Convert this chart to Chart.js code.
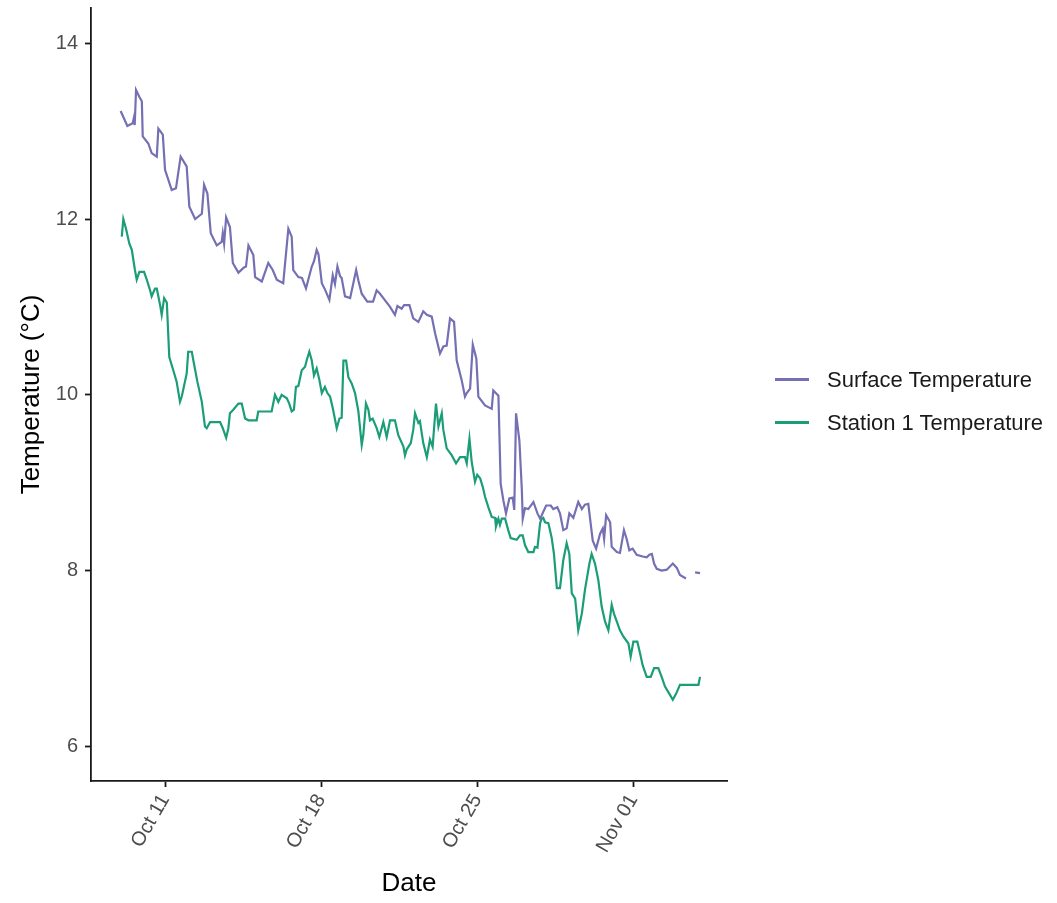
<!DOCTYPE html>
<html>
<head>
<meta charset="utf-8">
<title>Surface vs Station 1 temperature</title>
<script src="https://cdn.jsdelivr.net/npm/chart.js@4.4.1/dist/chart.umd.min.js"></script>
<style>
  html, body { margin: 0; padding: 0; background: #ffffff; }
  #wrap { position: relative; width: 1057px; height: 903px; }
  #legend { position: absolute; left: 775px; top: 358px; }
  .legend-item {
    display: flex;
    align-items: center;
    height: 43px;
    font-family: 'Liberation Sans', Arial, Helvetica, sans-serif;
    font-size: 22px;
    color: #1a1a1a;
    white-space: nowrap;
  }
  .legend-key { display: inline-block; width: 34px; height: 2.5px; margin-right: 18px; }
</style>
</head>
<body>
<div id="wrap">
  <canvas id="tempChart" width="1057" height="903"></canvas>
  <div id="legend"></div>
</div>
<script>
// x values are days of October (Nov 01 = day 32)
const surfaceDays = [9.01, 9.31, 9.55, 9.61, 9.64, 9.70, 9.85, 9.96, 10.00, 10.25,
  10.40, 10.63, 10.70, 10.90, 11.00, 11.30, 11.49, 11.70, 11.97, 12.09,
  12.35, 12.65, 12.75, 12.90, 13.05, 13.32, 13.54, 13.59, 13.65, 13.74,
  13.91, 14.04, 14.29, 14.54, 14.63, 14.74, 14.96, 15.04, 15.34, 15.63,
  15.83, 16.01, 16.30, 16.53, 16.68, 16.75, 16.98, 17.14, 17.32, 17.58,
  17.68, 17.80, 17.88, 18.03, 18.17, 18.37, 18.52, 18.62, 18.73, 18.85,
  18.92, 19.07, 19.30, 19.57, 19.67, 19.82, 20.07, 20.33, 20.49, 20.64,
  20.79, 21.09, 21.31, 21.42, 21.61, 21.72, 21.96, 22.13, 22.36, 22.58,
  22.74, 22.96, 23.11, 23.33, 23.48, 23.63, 23.78, 23.96, 24.08, 24.30,
  24.45, 24.53, 24.68, 24.80, 24.96, 25.05, 25.35, 25.65, 25.72, 25.95,
  26.05, 26.17, 26.29, 26.44, 26.59, 26.66, 26.74, 26.89, 27.00, 27.04,
  27.14, 27.29, 27.52, 27.70, 27.82, 28.09, 28.30, 28.41, 28.59, 28.71,
  28.86, 29.01, 29.13, 29.31, 29.53, 29.69, 29.83, 29.98, 30.18, 30.33,
  30.51, 30.63, 30.69, 30.78, 30.96, 31.03, 31.26, 31.40, 31.58, 31.70,
  31.82, 31.97, 32.15, 32.42, 32.60, 32.72, 32.83, 32.93, 33.05, 33.27,
  33.50, 33.77, 33.95, 34.09, 34.36, 34.60, 34.77, 34.99];

const surfaceTemps = [13.23, 13.06, 13.09, 13.16, 13.07, 13.47, 13.39, 13.34, 12.94, 12.86,
  12.75, 12.71, 13.03, 12.96, 12.56, 12.33, 12.35, 12.71, 12.60, 12.14,
  12.00, 12.06, 12.39, 12.29, 11.84, 11.70, 11.74, 11.84, 11.72, 12.02,
  11.91, 11.50, 11.39, 11.45, 11.46, 11.70, 11.59, 11.34, 11.29, 11.50,
  11.42, 11.31, 11.27, 11.89, 11.80, 11.42, 11.34, 11.33, 11.21, 11.46,
  11.52, 11.65, 11.60, 11.27, 11.20, 11.08, 11.36, 11.26, 11.46, 11.35,
  11.33, 11.12, 11.10, 11.42, 11.30, 11.15, 11.06, 11.06, 11.19, 11.15,
  11.10, 11.00, 10.91, 11.01, 10.98, 11.02, 11.02, 10.87, 10.83, 10.95,
  10.91, 10.89, 10.70, 10.47, 10.55, 10.56, 10.87, 10.83, 10.39, 10.17,
  9.98, 10.02, 10.07, 10.57, 10.41, 9.98, 9.88, 9.84, 10.05, 9.99,
  8.99, 8.80, 8.65, 8.82, 8.83, 8.69, 9.79, 9.48, 8.92, 8.59,
  8.71, 8.70, 8.78, 8.65, 8.59, 8.74, 8.74, 8.70, 8.72, 8.65,
  8.46, 8.48, 8.65, 8.60, 8.78, 8.70, 8.75, 8.76, 8.34, 8.25,
  8.42, 8.48, 8.36, 8.63, 8.55, 8.27, 8.21, 8.20, 8.46, 8.36,
  8.23, 8.25, 8.18, 8.16, 8.15, 8.18, 8.19, 8.08, 8.02, 8.00,
  8.01, 8.08, 8.03, 7.95, 7.91, null, 7.98, 7.97];

const stationDays = [9.06, 9.13, 9.25, 9.40, 9.51, 9.65, 9.73, 9.85, 10.06, 10.18,
  10.33, 10.40, 10.55, 10.63, 10.78, 10.85, 10.96, 11.08, 11.19, 11.37,
  11.52, 11.67, 11.75, 11.97, 12.04, 12.20, 12.30, 12.45, 12.65, 12.79,
  12.87, 13.02, 13.47, 13.59, 13.74, 13.84, 13.91, 14.06, 14.29, 14.44,
  14.59, 14.74, 15.11, 15.18, 15.78, 15.93, 16.08, 16.23, 16.46, 16.57,
  16.68, 16.78, 16.87, 16.98, 17.13, 17.28, 17.35, 17.47, 17.58, 17.68,
  17.80, 17.92, 18.03, 18.17, 18.28, 18.40, 18.52, 18.70, 18.82, 18.92,
  19.00, 19.12, 19.22, 19.37, 19.52, 19.67, 19.82, 19.89, 20.01, 20.12,
  20.19, 20.31, 20.49, 20.61, 20.79, 20.94, 21.09, 21.31, 21.46, 21.69,
  21.76, 21.84, 22.02, 22.13, 22.21, 22.36, 22.43, 22.58, 22.74, 22.88,
  23.00, 23.15, 23.26, 23.41, 23.48, 23.63, 23.86, 24.05, 24.23, 24.45,
  24.53, 24.65, 24.75, 24.90, 25.00, 25.13, 25.25, 25.35, 25.50, 25.65,
  25.80, 25.84, 25.95, 26.02, 26.10, 26.25, 26.39, 26.50, 26.77, 26.92,
  27.04, 27.14, 27.29, 27.52, 27.59, 27.70, 27.82, 27.89, 27.96, 28.04,
  28.19, 28.34, 28.44, 28.57, 28.71, 28.86, 29.01, 29.13, 29.24, 29.39,
  29.53, 29.69, 29.83, 30.03, 30.13, 30.28, 30.43, 30.58, 30.73, 30.88,
  31.03, 31.13, 31.26, 31.40, 31.55, 31.78, 31.88, 32.00, 32.18, 32.30,
  32.42, 32.60, 32.78, 32.93, 33.12, 33.27, 33.42, 33.61, 33.77, 33.92,
  34.09, 34.92, 34.99];

const stationTemps = [11.80, 12.00, 11.89, 11.72, 11.65, 11.42, 11.31, 11.40, 11.40, 11.31,
  11.19, 11.12, 11.21, 11.21, 11.02, 10.91, 11.10, 11.05, 10.43, 10.28,
  10.15, 9.92, 9.98, 10.24, 10.49, 10.49, 10.35, 10.15, 9.92, 9.64,
  9.62, 9.69, 9.69, 9.62, 9.51, 9.62, 9.79, 9.83, 9.90, 9.90,
  9.73, 9.71, 9.71, 9.81, 9.81, 10.00, 9.92, 10.00, 9.96, 9.90,
  9.81, 9.83, 10.09, 10.10, 10.28, 10.32, 10.39, 10.49, 10.39, 10.22,
  10.30, 10.17, 10.02, 10.09, 10.02, 9.98, 9.85, 9.62, 9.73, 9.74,
  10.39, 10.39, 10.20, 10.13, 10.02, 9.81, 9.43, 9.54, 9.90, 9.83,
  9.71, 9.73, 9.62, 9.52, 9.69, 9.52, 9.71, 9.71, 9.54, 9.41,
  9.31, 9.38, 9.45, 9.60, 9.79, 9.68, 9.70, 9.45, 9.29, 9.49,
  9.41, 9.90, 9.64, 9.79, 9.60, 9.39, 9.31, 9.22, 9.29, 9.29,
  9.22, 9.50, 9.24, 9.01, 9.09, 9.05, 8.95, 8.84, 8.72, 8.61,
  8.60, 8.50, 8.59, 8.52, 8.59, 8.59, 8.46, 8.37, 8.35, 8.40,
  8.40, 8.29, 8.21, 8.21, 8.27, 8.26, 8.54, 8.59, 8.60, 8.55,
  8.54, 8.37, 8.19, 7.80, 7.80, 8.12, 8.31, 8.19, 7.74, 7.68,
  7.32, 7.51, 7.78, 8.08, 8.19, 8.08, 7.89, 7.59, 7.42, 7.32,
  7.61, 7.51, 7.42, 7.32, 7.25, 7.17, 7.02, 7.19, 7.19, 7.06,
  6.92, 6.79, 6.79, 6.89, 6.89, 6.79, 6.68, 6.60, 6.53, 6.60,
  6.70, 6.70, 6.79];

const xTickDays = [11, 18, 25, 32];
const xTickLabels = ["Oct 11", "Oct 18", "Oct 25", "Nov 01"];
const yTickValues = [6, 8, 10, 12, 14];

const fontFamily = "'Liberation Sans', Arial, Helvetica, sans-serif";
Chart.defaults.font.family = fontFamily;

const axisColor = "#1a1a1a";
const tickLabelColor = "#4d4d4d";

function toPoints(days, temps) {
  return days.map((d, i) => ({ x: d, y: temps[i] }));
}

// legend drawn as html next to the canvas, built from the chart's own legend items
const htmlLegend = {
  id: "htmlLegend",
  afterUpdate(chart) {
    const box = document.getElementById("legend");
    box.innerHTML = "";
    Chart.defaults.plugins.legend.labels.generateLabels(chart).forEach((item) => {
      const row = document.createElement("div");
      row.className = "legend-item";
      const key = document.createElement("span");
      key.className = "legend-key";
      key.style.background = item.strokeStyle;
      const text = document.createElement("span");
      text.textContent = item.text;
      row.appendChild(key);
      row.appendChild(text);
      box.appendChild(row);
    });
  },
};

// drop the half-label overhang chart.js reserves at the axis ends
function noEdgePadding(scale) {
  scale.paddingTop = 0;
  scale.paddingBottom = 0;
  scale.paddingLeft = 0;
  scale.paddingRight = 0;
}

const chart = new Chart(document.getElementById("tempChart"), {
  type: "line",
  data: {
    datasets: [
      {
        label: "Surface Temperature",
        data: toPoints(surfaceDays, surfaceTemps),
        borderColor: "#7570b3",
        backgroundColor: "#7570b3",
        borderWidth: 2.2,
        pointRadius: 0,
        tension: 0,
        spanGaps: false,
      },
      {
        label: "Station 1 Temperature",
        data: toPoints(stationDays, stationTemps),
        borderColor: "#1b9e77",
        backgroundColor: "#1b9e77",
        borderWidth: 2.2,
        pointRadius: 0,
        tension: 0,
      },
    ],
  },
  options: {
    responsive: false,
    animation: false,
    layout: { padding: { top: 8, right: 330, bottom: 0, left: 0 } },
    plugins: {
      tooltip: { enabled: false },
      legend: { display: false },
    },
    scales: {
      x: {
        type: "linear",
        min: 7.68,
        max: 36.2,
        afterBuildTicks: (scale) => {
          scale.ticks = xTickDays.map((v) => ({ value: v }));
        },
        afterFit: (scale) => {
          scale.height = 122;
          noEdgePadding(scale);
        },
        grid: {
          drawOnChartArea: false,
          drawTicks: true,
          tickLength: 6,
          tickWidth: 1.8,
          tickColor: axisColor,
        },
        border: { display: true, color: axisColor, width: 1.8 },
        ticks: {
          autoSkip: false,
          minRotation: 60,
          maxRotation: 60,
          padding: 3,
          color: tickLabelColor,
          font: { size: 20 },
          callback: (value, index) => xTickLabels[index],
        },
        title: {
          display: true,
          text: "Date",
          color: "#000000",
          font: { size: 26 },
          padding: { top: 0, bottom: 4 },
        },
      },
      y: {
        type: "linear",
        min: 5.605,
        max: 14.402,
        afterBuildTicks: (scale) => {
          scale.ticks = yTickValues.map((v) => ({ value: v }));
        },
        afterFit: (scale) => {
          scale.width = 91;
          noEdgePadding(scale);
        },
        grid: {
          drawOnChartArea: false,
          drawTicks: true,
          tickLength: 6,
          tickWidth: 1.8,
          tickColor: axisColor,
        },
        border: { display: true, color: axisColor, width: 1.8 },
        ticks: {
          padding: 7,
          color: tickLabelColor,
          font: { size: 20 },
        },
        title: {
          display: true,
          text: "Temperature (°C)",
          color: "#000000",
          font: { size: 26 },
          padding: { top: 16, bottom: 0 },
        },
      },
    },
  },
  plugins: [htmlLegend],
});
</script>
</body>
</html>
